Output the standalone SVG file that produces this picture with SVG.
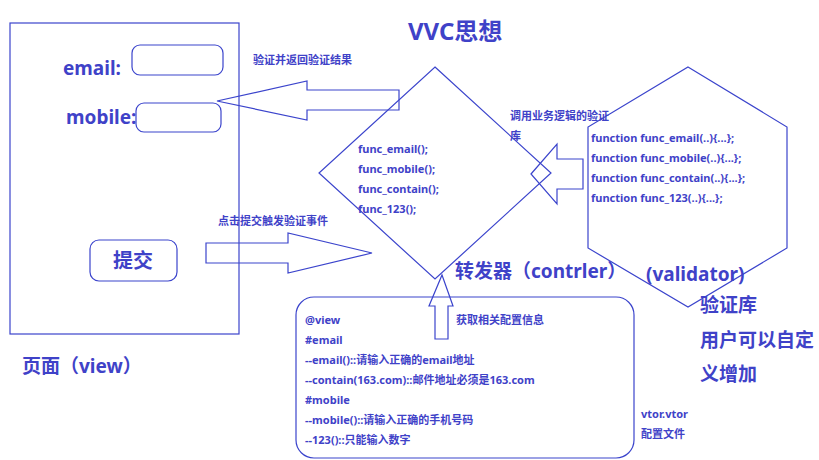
<svg xmlns="http://www.w3.org/2000/svg" width="819" height="460" viewBox="0 0 819 460">
<style>
.ln{fill:none;stroke:#3b44cc;stroke-width:1.2}
.t{font-family:"Noto Sans","Noto Sans CJK SC",sans-serif;font-weight:bold;fill:#3f42c8}
.s{font-size:11px}
.m{font-size:19px}
</style>
<rect width="819" height="460" fill="#fff"/>
<text class="t" x="408" y="40" font-size="24">VVC思想</text>
<g id="page">
<rect class="ln" x="10" y="23" width="229" height="311"/>
<text class="t m" x="63" y="75">email:</text>
<rect class="ln" x="132" y="45" width="91" height="30" rx="8"/>
<text class="t m" x="66" y="124">mobile:</text>
<rect class="ln" x="136" y="103" width="85" height="29" rx="8"/>
<g id="submit">
<rect class="ln" x="90" y="240" width="87" height="41" rx="9"/>
<text class="t" x="133" y="268" font-size="20" text-anchor="middle">提交</text>
</g>
<text class="t m" x="22" y="373">页面（view）</text>
</g>
<g id="controller">
<polygon class="ln" points="435,67 551,173 435,279 319,173"/>
<text class="t s" x="358" y="153">func_email();</text>
<text class="t s" x="358" y="173">func_mobile();</text>
<text class="t s" x="358" y="193">func_contain();</text>
<text class="t s" x="358" y="213">func_123();</text>
<text class="t m" x="455" y="278">转发器（contrler）</text>
</g>
<g id="validator">
<polygon class="ln" points="688,67 787,127 787,248 688,307 588,248 588,127"/>
<text class="t s" x="591" y="142">function func_email(..){...};</text>
<text class="t s" x="591" y="162">function func_mobile(..){...};</text>
<text class="t s" x="591" y="182">function func_contain(..){...};</text>
<text class="t s" x="591" y="202">function func_123(..){...};</text>
<text class="t m" x="646" y="281">(validator)</text>
<text class="t m" x="700" y="312">验证库</text>
<text class="t m" x="700" y="347">用户可以自定</text>
<text class="t m" x="700" y="381">义增加</text>
</g>
<g id="config">
<rect class="ln" x="296" y="297" width="338" height="161" rx="18"/>
<text class="t s" x="305" y="324">@view</text>
<text class="t s" x="305" y="344">#email</text>
<text class="t s" x="305" y="364">--email()::请输入正确的email地址</text>
<text class="t s" x="305" y="384">--contain(163.com)::邮件地址必须是163.com</text>
<text class="t s" x="305" y="404">#mobile</text>
<text class="t s" x="305" y="424">--mobile()::请输入正确的手机号码</text>
<text class="t s" x="305" y="444">--123()::只能输入数字</text>
<text class="t s" x="641" y="418">vtor.vtor</text>
<text class="t s" x="641" y="438">配置文件</text>
</g>
<g id="connectors">
<polygon class="ln" points="217,101 307,81 307,90 399,90 399,110 307,110 307,120"/>
<text class="t s" x="253" y="64">验证并返回验证结果</text>
<polygon class="ln" points="206,243 288,243 288,233 372,253 288,273 288,263 206,263"/>
<text class="t s" x="218" y="225">点击提交触发验证事件</text>
<polygon class="ln" points="531,174 557,144 557,159 583,159 583,189 557,189 557,204"/>
<text class="t s" x="510" y="120">调用业务逻辑的验证</text>
<text class="t s" x="510" y="140">库</text>
<polygon class="ln" points="442,275 453,306 448,306 448,339 435,339 435,306 429,306"/>
<text class="t s" x="456" y="324">获取相关配置信息</text>
</g>
</svg>
